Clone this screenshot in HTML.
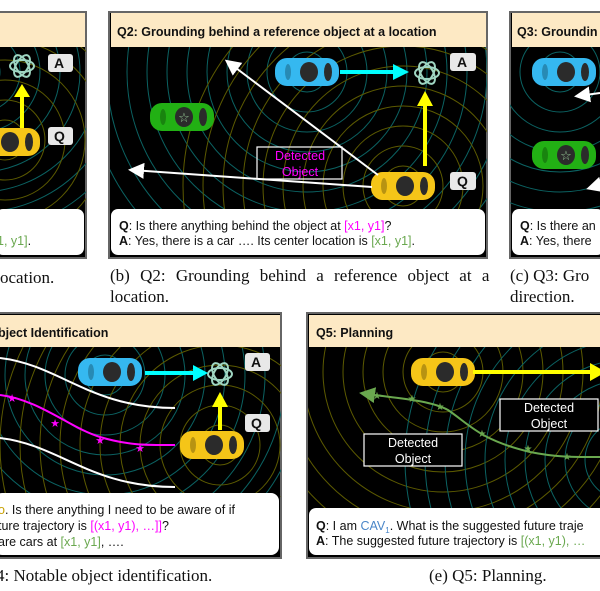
<!DOCTYPE html>
<html><head><meta charset="utf-8"><style>
html,body{margin:0;padding:0;background:#fff;width:600px;height:591px;overflow:hidden}
svg{display:block}
.h{font-family:"Liberation Sans",Arial,sans-serif;font-weight:bold;font-size:12.5px;fill:#111}
.t{font-family:"Liberation Sans",Arial,sans-serif;font-size:12.5px;fill:#111}
.c{font-family:"Liberation Serif","Times New Roman",serif;font-size:17px;fill:#111}
.lbl{font-family:"Liberation Sans",Arial,sans-serif;font-weight:bold;font-size:14px;fill:#111}
.det{font-family:"Liberation Sans",Arial,sans-serif;font-size:12.5px;fill:#fff;text-anchor:middle}
</style></head><body>
<svg width="600" height="591" viewBox="0 0 600 591" xmlns="http://www.w3.org/2000/svg">
<defs>
<g id="car">
  <rect x="-32" y="-14" width="64" height="28" rx="12" />
  <ellipse cx="2" cy="0" rx="9" ry="10" fill="#2b2b2b"/>
  <ellipse cx="21" cy="0" rx="4" ry="9" fill="#2b2b2b"/>
  <ellipse cx="-19" cy="0" rx="3" ry="8" fill="#000" opacity=".25"/>
</g>
<g id="logo" fill="none" stroke="#9fd6c2" stroke-width="2">
  <ellipse rx="12" ry="6"/>
  <ellipse rx="12" ry="6" transform="rotate(60)"/>
  <ellipse rx="12" ry="6" transform="rotate(120)"/>
</g>
<g id="ry" fill="none" stroke="#5c5a00" stroke-width="1">
  <circle r="20"/><circle r="40"/><circle r="60"/><circle r="80"/><circle r="100"/><circle r="120"/><circle r="140"/><circle r="160"/><circle r="180"/><circle r="200"/><circle r="220"/>
</g>
<g id="rc" fill="none" stroke="#0b6262" stroke-width="1">
  <circle r="20"/><circle r="40"/><circle r="60"/><circle r="80"/><circle r="100"/><circle r="120"/><circle r="140"/><circle r="160"/><circle r="180"/><circle r="200"/><circle r="220"/>
</g>
<clipPath id="c1"><rect x="0" y="47" width="86" height="165"/></clipPath>
<clipPath id="c2"><rect x="110" y="47" width="377" height="165"/></clipPath>
<clipPath id="c3"><rect x="510" y="47" width="90" height="165"/></clipPath>
<clipPath id="c4"><rect x="0" y="347" width="281" height="150"/></clipPath>
<clipPath id="c5"><rect x="308" y="347" width="292" height="165"/></clipPath>
<marker id="aw" markerWidth="8" markerHeight="8" refX="6" refY="4" orient="auto"><path d="M0,0 L8,4 L0,8z" fill="#fff"/></marker>
<marker id="ag" markerWidth="8" markerHeight="8" refX="4" refY="4" orient="auto"><path d="M8,0 L0,4 L8,8z" fill="#6aa84f"/></marker>
</defs>

<rect x="-2" y="12" width="88" height="246" fill="#000" stroke="#666" stroke-width="2"/>
<rect x="0" y="13" width="85" height="34" fill="#fde9c4"/>
<g clip-path="url(#c1)">
  <use href="#rc" x="-20" y="72"/>
  <use href="#ry" x="5" y="140"/>
  <use href="#car" x="8" y="142" fill="#f5c518"/>
  <use href="#logo" x="22" y="66"/>
  <line x1="22" y1="128" x2="22" y2="96" stroke="#ffff00" stroke-width="4"/>
  <path d="M14,97 L22,84 L30,97z" fill="#ffff00"/>
  <rect x="48" y="54" width="25" height="18" rx="3" fill="#e8e8e8"/><text x="54" y="68" class="lbl">A</text>
  <rect x="48" y="127" width="25" height="18" rx="3" fill="#e8e8e8"/><text x="54" y="141" class="lbl">Q</text>
</g>
<rect x="-4" y="209" width="88" height="46" rx="7" fill="#fff"/>
<text x="-3" y="245" class="t"><tspan fill="#6aa84f">1, y1]</tspan><tspan fill="#111">.</tspan></text>
<text x="0" y="283" class="c">ocation.</text>

<rect x="109" y="12" width="378" height="246" fill="#000" stroke="#666" stroke-width="2"/>
<rect x="111" y="13" width="375" height="34" fill="#fde9c4"/>
<text x="117" y="36" class="h">Q2: Grounding behind a reference object at a location</text>
<g clip-path="url(#c2)">
  <use href="#rc" x="307" y="72"/>
  <use href="#ry" x="403" y="186"/>
  <use href="#car" x="307" y="72" fill="#35b8f0"/>
  <use href="#car" x="182" y="117" fill="#22b014"/>
  <text x="184" y="122" font-size="13" fill="#9c9" text-anchor="middle" font-family="DejaVu Sans">☆</text>
  <use href="#car" x="403" y="186" fill="#f5c518"/>
  <use href="#logo" x="427" y="73"/>
  <line x1="340" y1="72" x2="395" y2="72" stroke="#00ffff" stroke-width="4"/>
  <path d="M393,64 L409,72 L393,80z" fill="#00ffff"/>
  <line x1="425" y1="166" x2="425" y2="104" stroke="#ffff00" stroke-width="4"/>
  <path d="M417,106 L425,91 L433,106z" fill="#ffff00"/>
  <line x1="378" y1="175" x2="228" y2="62" stroke="#fff" stroke-width="2" marker-end="url(#aw)"/>
  <line x1="372" y1="187" x2="132" y2="170" stroke="#fff" stroke-width="2" marker-end="url(#aw)"/>
  <rect x="257" y="147" width="85" height="32" fill="none" stroke="#fff" stroke-width="1.2"/>
  <text x="300" y="160" font-family="Liberation Sans,Arial,sans-serif" font-size="12.5" fill="#ff00ff" text-anchor="middle">Detected</text>
  <text x="300" y="176" font-family="Liberation Sans,Arial,sans-serif" font-size="12.5" fill="#ff00ff" text-anchor="middle">Object</text>
  <rect x="450" y="53" width="26" height="18" rx="3" fill="#e8e8e8"/><text x="457" y="67" class="lbl">A</text>
  <rect x="450" y="172" width="26" height="18" rx="3" fill="#e8e8e8"/><text x="457" y="186" class="lbl">Q</text>
</g>
<rect x="111" y="209" width="374" height="46" rx="7" fill="#fff"/>
<text x="119" y="230" class="t"><tspan font-weight="bold">Q</tspan>: Is there anything behind the object at <tspan fill="#ff00ff">[x1, y1]</tspan>?</text>
<text x="119" y="245" class="t"><tspan font-weight="bold">A</tspan>: Yes, there is a car …. Its center location is <tspan fill="#6aa84f">[x1, y1]</tspan>.</text>
<text x="110" y="281" class="c" word-spacing="6">(b) Q2: Grounding behind a reference object at a</text>
<text x="110" y="302" class="c">location.</text>

<rect x="510" y="12" width="95" height="246" fill="#000" stroke="#666" stroke-width="2"/>
<rect x="512" y="13" width="90" height="34" fill="#fde9c4"/>
<text x="517" y="36" class="h">Q3: Groundin</text>
<g clip-path="url(#c3)">
  <use href="#rc" x="560" y="72"/>
  <use href="#car" x="564" y="72" fill="#35b8f0"/>
  <use href="#car" x="564" y="155" fill="#22b014"/>
  <text x="566" y="160" font-size="13" fill="#9c9" text-anchor="middle" font-family="DejaVu Sans">☆</text>
  <line x1="600" y1="93" x2="578" y2="96" stroke="#fff" stroke-width="2" marker-end="url(#aw)"/>
  <line x1="600" y1="185" x2="590" y2="188" stroke="#fff" stroke-width="2" marker-end="url(#aw)"/>
</g>
<rect x="512" y="209" width="92" height="46" rx="7" fill="#fff"/>
<text x="520" y="230" class="t"><tspan font-weight="bold">Q</tspan>: Is there an</text>
<text x="520" y="245" class="t"><tspan font-weight="bold">A</tspan>: Yes, there</text>
<text x="510" y="281" class="c">(c) Q3: Gro</text>
<text x="510" y="302" class="c">direction.</text>

<rect x="-2" y="313" width="283" height="245" fill="#000" stroke="#666" stroke-width="2"/>
<rect x="0" y="315" width="280" height="32" fill="#fde9c4"/>
<text x="-2" y="337" class="h">bject Identification</text>
<g clip-path="url(#c4)">
  <use href="#rc" x="105" y="375"/>
  <use href="#ry" x="220" y="445"/>
  <path d="M0,358 C60,365 90,408 175,408" fill="none" stroke="#fff" stroke-width="2"/>
  <path d="M0,438 C60,445 90,487 175,487" fill="none" stroke="#fff" stroke-width="2"/>
  <path d="M0,395 C40,400 70,428 100,437 C130,446 150,445 175,445" fill="none" stroke="#ff00ff" stroke-width="2"/>
  <g fill="#ff00ff" font-family="DejaVu Sans" font-size="11" text-anchor="middle">
    <text x="12" y="402">★</text><text x="55" y="427">★</text><text x="100" y="444">★</text><text x="140" y="452">★</text>
  </g>
  <use href="#car" x="110" y="372" fill="#35b8f0"/>
  <use href="#car" x="212" y="445" fill="#f5c518"/>
  <use href="#logo" x="220" y="374"/>
  <line x1="145" y1="373" x2="195" y2="373" stroke="#00ffff" stroke-width="4"/>
  <path d="M193,365 L208,373 L193,381z" fill="#00ffff"/>
  <line x1="220" y1="430" x2="220" y2="405" stroke="#ffff00" stroke-width="4"/>
  <path d="M212,407 L220,392 L228,407z" fill="#ffff00"/>
  <rect x="245" y="353" width="25" height="18" rx="3" fill="#e8e8e8"/><text x="251" y="367" class="lbl">A</text>
  <rect x="245" y="414" width="25" height="18" rx="3" fill="#e8e8e8"/><text x="251" y="428" class="lbl">Q</text>
</g>
<rect x="-6" y="493" width="285" height="62" rx="8" fill="#fff"/>
<text x="-2" y="514" class="t"><tspan fill="#c8a000">o</tspan>. Is there anything I need to be aware of if</text>
<text x="-2" y="530" class="t">ture trajectory is <tspan fill="#ff00ff">[(x1, y1), …]]</tspan>?</text>
<text x="-2" y="546" class="t">are cars at <tspan fill="#6aa84f">[x1, y1]</tspan>, ….</text>
<text x="-4" y="581" class="c">4: Notable object identification.</text>

<rect x="307" y="313" width="300" height="245" fill="#000" stroke="#666" stroke-width="2"/>
<rect x="309" y="315" width="295" height="32" fill="#fde9c4"/>
<text x="316" y="337" class="h">Q5: Planning</text>
<g clip-path="url(#c5)">
  <use href="#ry" x="443" y="372"/>
  <use href="#rc" x="625" y="460"/>
  <use href="#car" x="443" y="372" fill="#f5c518"/>
  <line x1="473" y1="372" x2="592" y2="372" stroke="#ffff00" stroke-width="4"/>
  <path d="M590,363 L606,372 L590,381z" fill="#ffff00"/>
  <path d="M367,394 C395,398 430,400 448,410 C470,425 480,440 530,452 C560,458 580,457 600,457" fill="none" stroke="#6aa84f" stroke-width="2" marker-start="url(#ag)"/>
  <g fill="#6aa84f" font-family="DejaVu Sans" font-size="10" text-anchor="middle">
    <text x="377" y="399">★</text><text x="412" y="402">★</text><text x="440" y="410">★</text><text x="482" y="437">★</text><text x="528" y="452">★</text><text x="567" y="460">★</text>
  </g>
  <rect x="364" y="434" width="98" height="32" fill="#000" stroke="#fff" stroke-width="1.2"/>
  <text x="413" y="447" class="det">Detected</text><text x="413" y="463" class="det">Object</text>
  <rect x="500" y="399" width="98" height="32" fill="#000" stroke="#fff" stroke-width="1.2"/>
  <text x="549" y="412" class="det">Detected</text><text x="549" y="428" class="det">Object</text>
</g>
<rect x="309" y="508" width="298" height="47" rx="7" fill="#fff"/>
<text x="316" y="530" class="t"><tspan font-weight="bold">Q</tspan>: I am <tspan fill="#4a86c8">CAV<tspan font-size="8" dy="3">1</tspan></tspan><tspan dy="-3">. What is the suggested future traje</tspan></text>
<text x="316" y="545" class="t"><tspan font-weight="bold">A</tspan>: The suggested future trajectory is <tspan fill="#6aa84f">[(x1, y1), …</tspan></text>
<text x="429" y="581" class="c">(e) Q5: Planning.</text>
</svg>
</body></html>
